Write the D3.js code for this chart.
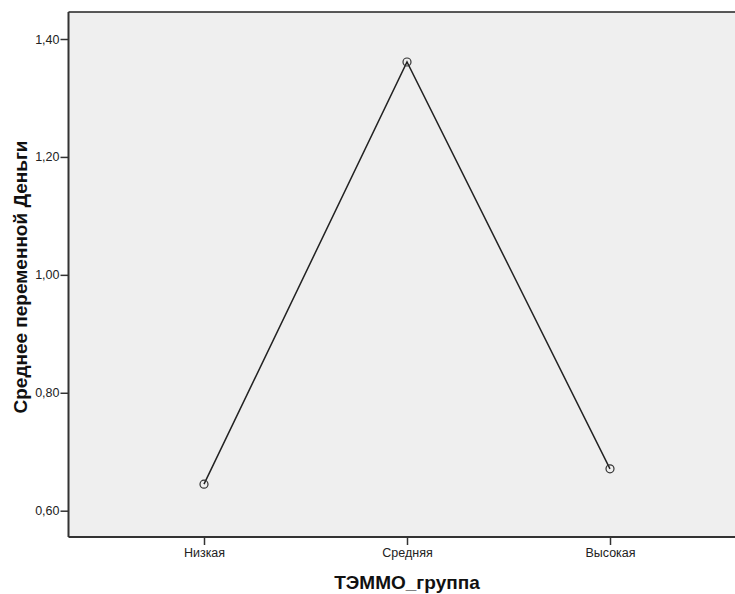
<!DOCTYPE html>
<html><head><meta charset="utf-8">
<script src="https://cdn.jsdelivr.net/npm/d3@7"></script>
<style>body{margin:0;background:#fff;} text{font-family:"Liberation Sans",Arial,sans-serif;}</style>
</head><body>
<svg id="c" width="735" height="594"></svg>
<script>
const categories = ["Низкая", "Средняя", "Высокая"];
const means = [0.645, 1.361, 0.671];
const yTicks = [0.6, 0.8, 1.0, 1.2, 1.4];
const xTitle = "ТЭММО_группа";
const yTitle = "Среднее переменной Деньги";

(function () {
const svg = d3.select("#c");
const pL = 68.5, pR = 745, pT = 12, pB = 537;
const x = d3.scalePoint().domain(categories).range([204, 610]);
const y = d3.scaleLinear().domain([0.6, 1.4]).range([510.7, 39]);

svg.append("rect").attr("x", pL).attr("y", pT).attr("width", pR - pL).attr("height", pB - pT)
  .attr("fill", "#efefef");
svg.append("line").attr("x1", pL).attr("x2", 735).attr("y1", pT).attr("y2", pT)
  .attr("stroke", "#222").attr("stroke-width", 1.5);

const fmt = d => d3.format(".2f")(d).replace(".", ",");
const yAxis = svg.append("g").attr("transform", `translate(${pL},0)`)
  .call(d3.axisLeft(y).tickValues(yTicks).tickFormat(fmt).tickSize(8).tickSizeOuter(0));
yAxis.select(".domain").remove();
svg.append("line").attr("x1", pL).attr("x2", pL).attr("y1", pT).attr("y2", pB)
  .attr("stroke", "#333").attr("stroke-width", 2);
yAxis.selectAll(".tick line").attr("stroke", "#333").attr("stroke-width", 1.5);
yAxis.selectAll(".tick text").attr("font-size", 12.5).attr("fill", "#222").attr("x", -9)
  .attr("font-family", "Liberation Sans, Arial, sans-serif");

const xAxis = svg.append("g").attr("transform", `translate(0,${pB})`)
  .call(d3.axisBottom(x).tickSize(8).tickSizeOuter(0));
xAxis.select(".domain").remove();
svg.append("line").attr("x1", pL).attr("x2", 735).attr("y1", pB).attr("y2", pB)
  .attr("stroke", "#333").attr("stroke-width", 2);
xAxis.selectAll(".tick line").attr("stroke", "#333").attr("stroke-width", 1.5);
xAxis.selectAll(".tick text").attr("font-size", 12.5).attr("fill", "#222").attr("y", 11)
  .attr("font-family", "Liberation Sans, Arial, sans-serif");

const line = d3.line().x((d, i) => x(categories[i])).y(d => y(d));
svg.append("path").datum(means).attr("d", line).attr("fill", "none")
  .attr("stroke", "#222").attr("stroke-width", 1.5);
svg.selectAll("circle.pt").data(means).enter().append("circle")
  .attr("cx", (d, i) => x(categories[i])).attr("cy", d => y(d)).attr("r", 4)
  .attr("fill", "none").attr("stroke", "#333").attr("stroke-width", 1.2);

svg.append("text").attr("x", 407).attr("y", 589).attr("text-anchor", "middle")
  .attr("font-size", 19).attr("font-weight", "bold").attr("fill", "#111").text(xTitle);
svg.append("text").attr("transform", "translate(27,277) rotate(-90)").attr("text-anchor", "middle")
  .attr("font-size", 19).attr("font-weight", "bold").attr("fill", "#111").text(yTitle);
})();
</script>
</body></html>
